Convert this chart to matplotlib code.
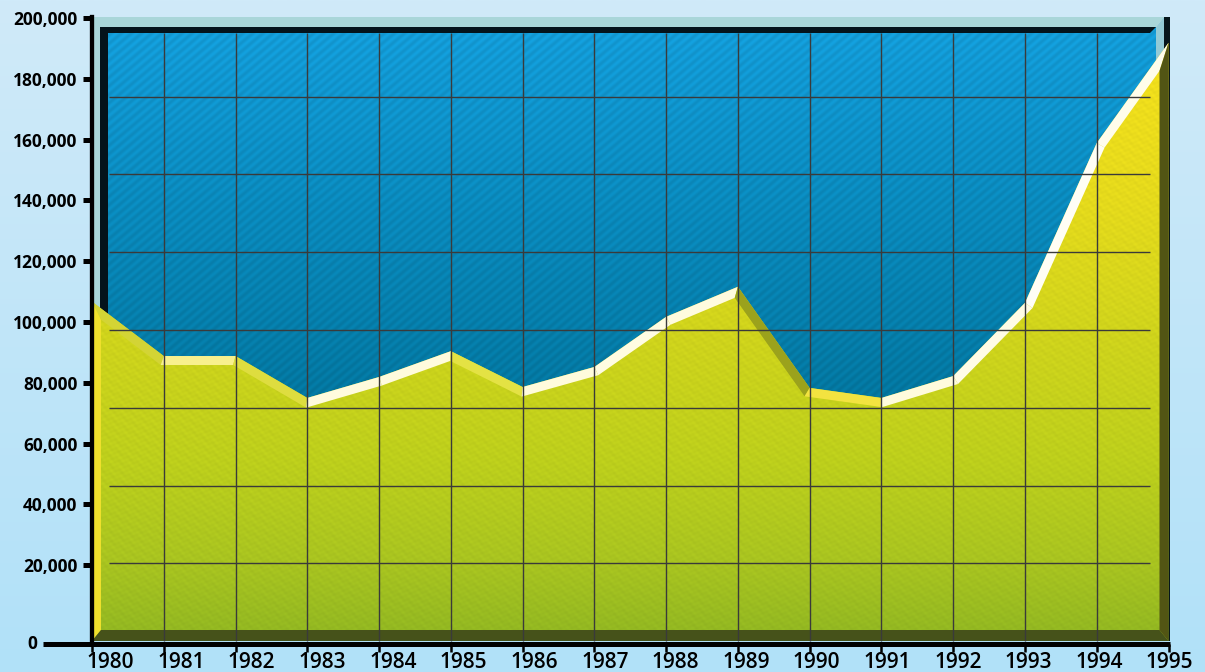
import numpy as np
import matplotlib
matplotlib.use("Agg")
import matplotlib.pyplot as plt
from matplotlib.patches import Polygon
from matplotlib.colors import to_rgb

# ---------------- data ----------------
years = list(range(1980, 1996))
values = [106700, 88800, 88800, 75000, 81900, 90400, 78600, 85200,
          101700, 111600, 78300, 75000, 82200, 106300, 158900, 191900]
ytick_values = [20000, 40000, 60000, 80000, 100000, 120000, 140000,
                160000, 180000, 200000]
ytick_labels = ["20,000", "40,000", "60,000", "80,000", "100,000", "120,000",
                "140,000", "160,000", "180,000", "200,000"]
zero_label = "0"
xtick_labels = [str(y) for y in years]

# ---------------- layout (pixels) ----------------
W, H = 1205, 672
fig = plt.figure(figsize=(W / 100, H / 100), dpi=100)

AX_L, AX_R, AX_T, AX_B = 92.0, 1168.5, 17.0, 644.0
XMIN, XMAX = 1980, 1995
YMIN, YMAX = -6000, 200400

FONT = "Open Sans"


def stops_interp(pos, stops):
    ps = [s[0] for s in stops]
    cols = np.array([to_rgb(s[1]) for s in stops])
    return np.stack([np.interp(pos, ps, cols[:, k]) for k in range(3)], axis=-1)


# background gradient
bg = fig.add_axes([0, 0, 1, 1], zorder=-10)
g = np.linspace(0, 1, 256)
bgimg = stops_interp(g, [(0, "#d0eaf9"), (1, "#b1e1f8")])[:, None, :]
bg.imshow(bgimg, aspect="auto", extent=[0, 1, 0, 1], interpolation="bilinear")
bg.axis("off")

ax = fig.add_axes([AX_L / W, 1 - AX_B / H, (AX_R - AX_L) / W, (AX_B - AX_T) / H])
ax.set_facecolor("none")
ax.set_xlim(XMIN, XMAX)
ax.set_ylim(YMIN, YMAX)
ax.set_autoscale_on(False)


def dxp(px):
    return XMIN + (px - AX_L) / (AX_R - AX_L) * (XMAX - XMIN)


def dyp(py):
    return YMIN + (AX_B - py) / (AX_B - AX_T) * (YMAX - YMIN)


def px_of_x(x):
    return AX_L + (x - XMIN) / (XMAX - XMIN) * (AX_R - AX_L)


def py_of_y(y):
    return AX_B - (y - YMIN) / (YMAX - YMIN) * (AX_B - AX_T)


def ppoly(pts, color, z):
    p = Polygon([(dxp(x), dyp(y)) for x, y in pts], closed=True,
                facecolor=color, edgecolor="none", zorder=z, clip_on=False)
    ax.add_patch(p)
    return p


# ---------------- blue panel ----------------
PX0, PX1, PY0, PY1 = 100, 1166, 27, 641
yy, xx = np.mgrid[0:PY1 - PY0, 0:PX1 - PX0]
py_abs = yy + PY0
blue = stops_interp(py_abs, [(33, "#139cd8"), (200, "#0a8abd"),
                             (400, "#03769f"), (641, "#036a8f")])
ang = np.deg2rad(40)
stripes = np.sin(2 * np.pi * (xx * np.sin(ang) + yy * np.cos(ang)) / 6.5)
blue = np.clip(blue * (1 + 0.045 * stripes)[..., None], 0, 1)
ax.imshow(blue, extent=[dxp(PX0), dxp(PX1), dyp(PY1), dyp(PY0)],
          aspect="auto", zorder=1, interpolation="bilinear")

# frame rims
ppoly([(93, 17), (1164, 17), (1156, 27), (100, 27), (100, 641), (93, 641)],
      "#a9d6d9", 2)
ppoly([(100, 27), (1156, 27), (1150, 33), (108, 33), (108, 641), (100, 641)],
      "#04131b", 2)
ppoly([(1156, 27), (1164, 17), (1164, 641), (1156, 641)], "#93cad6", 2)
ppoly([(1164, 17), (1170, 17), (1170, 641), (1164, 641)], "#06151b", 2)

# ---------------- yellow area ----------------
ybot = dyp(641)
verts = list(zip(years, values)) + [(years[-1], ybot), (years[0], ybot)]
clip_poly = Polygon(verts, closed=True, facecolor="none", edgecolor="none",
                    transform=ax.transData)
ax.add_patch(clip_poly)

YX0, YX1, YY0, YY1 = 92, 1169, 30, 641
yy2, xx2 = np.mgrid[0:YY1 - YY0, 0:YX1 - YX0]
yel = stops_interp(yy2 + YY0, [(40, "#f4e01c"), (200, "#e5da1c"),
                               (350, "#cdd31c"), (460, "#bdcf1c"),
                               (560, "#a9c420"), (641, "#90b622")])
mott = (np.sin(xx2 * 0.83 + yy2 * 0.31) * np.sin(yy2 * 1.07 - xx2 * 0.23)
        + 0.6 * np.sin(xx2 * 0.41 - yy2 * 0.67))
yel = np.clip(yel * (1 + 0.018 * mott)[..., None], 0, 1)
im = ax.imshow(yel, extent=[dxp(YX0), dxp(YX1), dyp(YY1), dyp(YY0)],
               aspect="auto", zorder=3, interpolation="bilinear")
im.set_clip_path(clip_poly)

# bevels of the area
P = np.array([(px_of_x(x), py_of_y(v)) for x, v in zip(years, values)])
T = 9.0
normals = []
for i in range(len(P) - 1):
    d = P[i + 1] - P[i]
    d = d / np.hypot(*d)
    normals.append(np.array([-d[1], d[0]]))
Q = []
for i in range(len(P)):
    na = np.array([1.0, 0.0]) if i == 0 else normals[i - 1]
    nb = np.array([-1.0, 0.0]) if i == len(P) - 1 else normals[i]
    m = (na + nb) / (1 + na @ nb) * T
    Q.append(P[i] + m)
Q = np.array(Q)

band_stops = [(-1.6, "#8a9216"), (-0.9, "#c9cc2c"), (-0.5, "#e4e244"),
              (-0.15, "#f3e23a"), (0.0, "#f8f08e"), (0.25, "#fffbdc"),
              (3.0, "#ffffff")]
for i in range(len(P) - 1):
    s = -(P[i + 1][1] - P[i][1]) / (P[i + 1][0] - P[i][0])
    col = stops_interp(np.array([s]), band_stops)[0]
    ppoly([tuple(P[i]), tuple(P[i + 1]), tuple(Q[i + 1]), tuple(Q[i])], col, 4)

XL, XR, YB = P[0][0], P[-1][0], 641
ppoly([tuple(P[0]), tuple(Q[0]), (Q[0][0], YB - 11), (XL, YB)], "#efe02c", 4)
ppoly([(XL, YB), (Q[0][0], YB - 11), (Q[-1][0], YB - 11), (XR, YB)], "#46521a", 4)
ppoly([tuple(P[-1]), tuple(Q[-1]), (Q[-1][0], YB - 11), (XR, YB)], "#525514", 4)

# ---------------- grid ----------------
ax.vlines(years[1:-1], dyp(641), dyp(33), colors="#3a3a3a", lw=1.0, zorder=5)
grid_rows = np.linspace(19, 641, 9)[1:-1]
ax.hlines([dyp(r) for r in grid_rows], dxp(109), dxp(1150),
          colors="#3a3a3a", lw=1.0, zorder=5)

# ---------------- axes ----------------
for side in ["top", "right", "bottom"]:
    ax.spines[side].set_visible(False)
ax.spines["left"].set_linewidth(3.1)
ax.spines["left"].set_color("black")
ax.spines["left"].set_zorder(10)
ax.plot([dxp(43), dxp(1170)], [dyp(644), dyp(644)], color="black", lw=3.6,
        solid_capstyle="butt", clip_on=False, zorder=10)

ax.set_yticks(ytick_values, ytick_labels)
ax.tick_params(axis="y", direction="out", length=6.5, width=3.6, pad=4.0,
               labelsize=12.5, colors="black")
for lbl in ax.get_yticklabels():
    lbl.set_fontfamily(FONT)
    lbl.set_fontweight("bold")

# x ticks: marks at the years; labels laid out on their own slightly
# narrower spacing, as in the original
ax.set_xticks(years, [""] * len(years))
ax.tick_params(axis="x", direction="out", length=5.8, width=1.8, colors="black")
LAB_X0, LAB_STEP = 110.5, 70.61
for i, lab in enumerate(xtick_labels):
    ax.text(dxp(LAB_X0 + i * LAB_STEP), dyp(668), lab, ha="center",
            va="baseline", fontsize=15, fontweight="semibold", family=FONT,
            clip_on=False)

ax.text(dxp(37), dyp(644), zero_label, ha="right", va="center",
        fontsize=12.5, fontweight="bold", family=FONT, clip_on=False)

fig.savefig("out.png", dpi=100)
